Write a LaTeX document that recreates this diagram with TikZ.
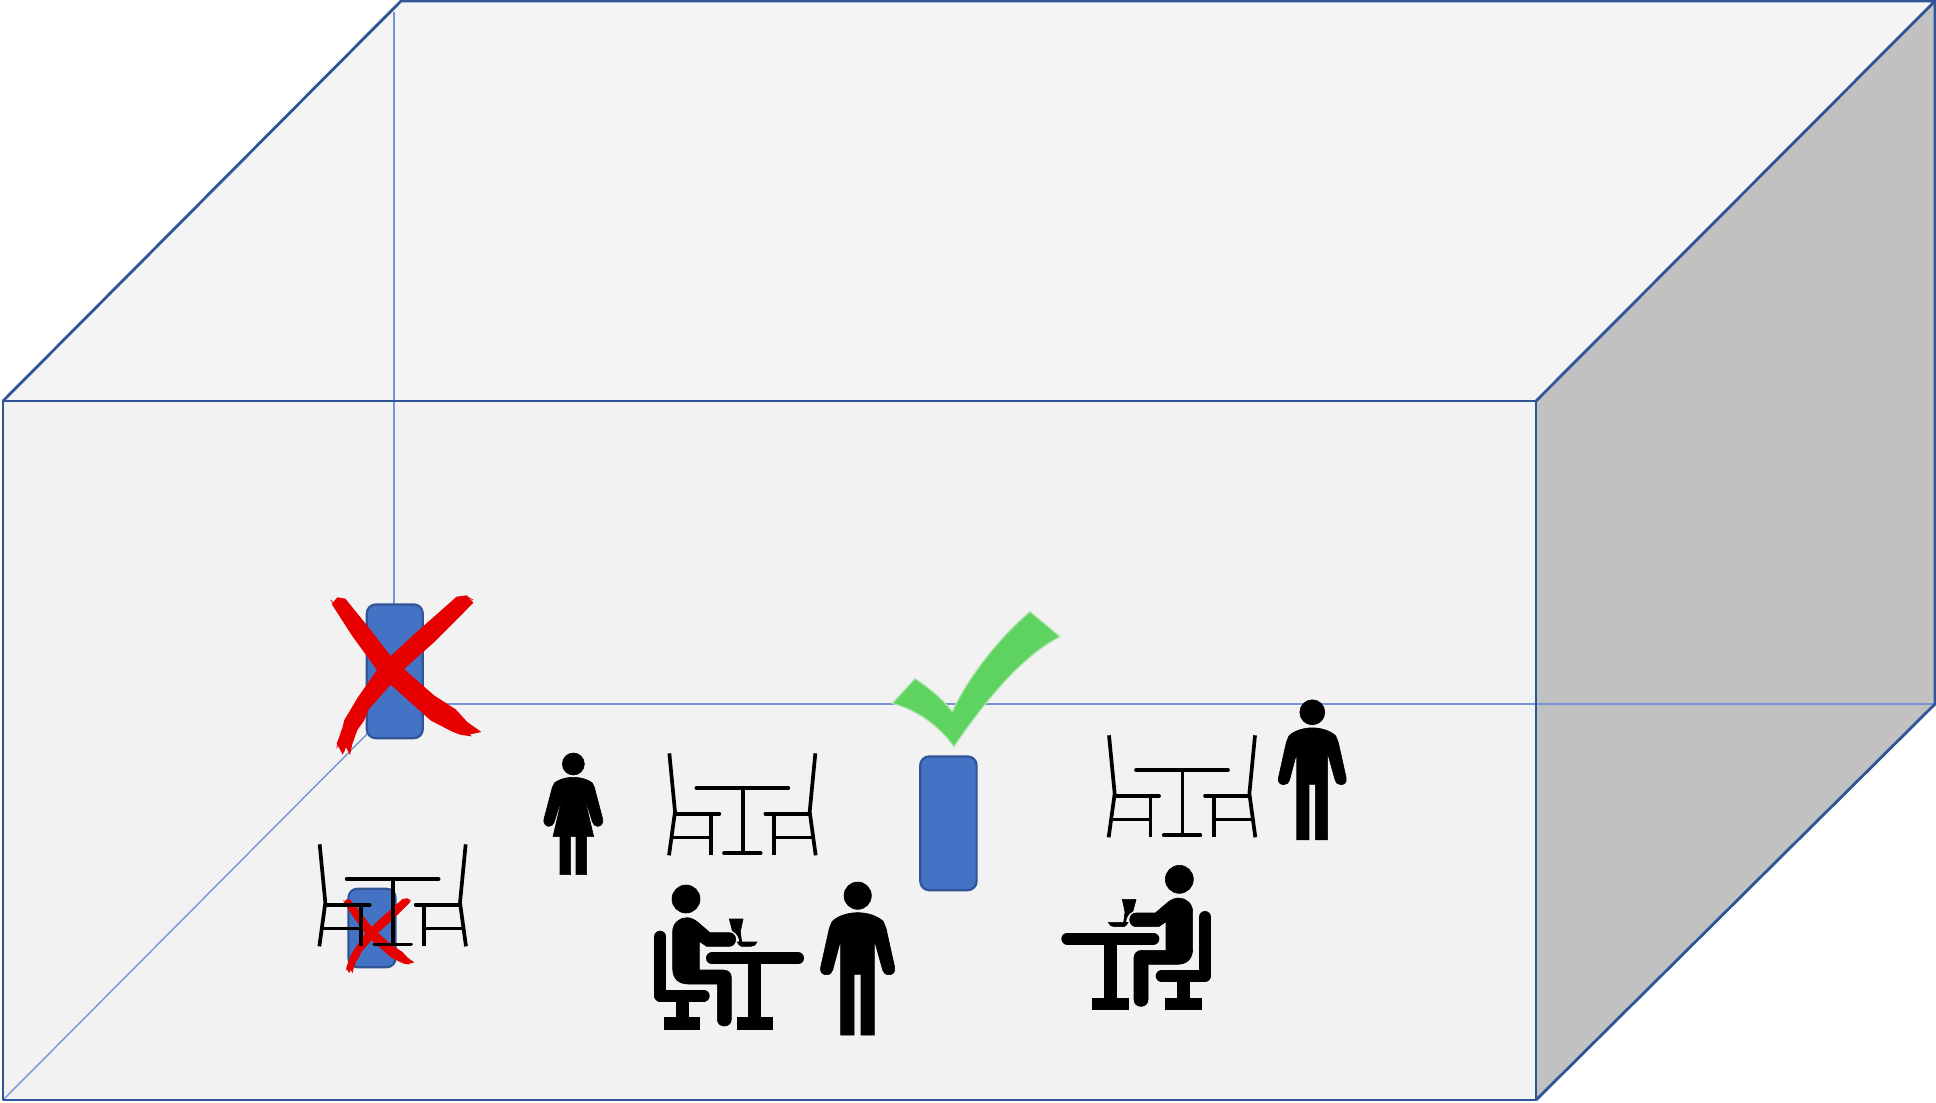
\documentclass[tikz,border=0pt]{standalone}
\usetikzlibrary{calc}
\definecolor{frontc}{HTML}{F2F2F2}
\definecolor{topc}{HTML}{F4F4F4}
\definecolor{sidec}{HTML}{C1C1C1}
\definecolor{edgec}{HTML}{2F5597}
\definecolor{innerc}{HTML}{7496D6}
\definecolor{bluec}{HTML}{4472C4}
\definecolor{redc}{HTML}{E60000}
\definecolor{greenc}{HTML}{5FD35F}
\tikzset{
  boxedge/.style={draw=edgec,line width=1.4pt,line join=round},
  innerline/.style={draw=innerc,line width=0.9pt},
  device/.style={draw=edgec,fill=bluec,line width=1.1pt,rounded corners=4.5pt,inner sep=0pt,outer sep=0pt},
  zoomunits/.style={x=0.166667pt,y=-0.166667pt},
  thinblack/.style={draw=black,line width=1.85pt,line cap=round,line join=round},
  thickblack/.style={draw=black,line width=6pt,line cap=round,line join=round},
  fray/.style={draw=redc,line width=0.5pt,opacity=.75},
}
\newcommand{\figTable}{%
  \draw[thinblack,line cap=butt] (118,40) -- (135,215) -- (117,346);
  \draw[thinblack,line cap=butt] (556,40) -- (539,215) -- (557,346);
  \draw[thinblack] (135,221) -- (268,221);
  \draw[thinblack] (539,221) -- (406,221);
  \draw[thinblack,line cap=butt] (242,221) -- (242,346);
  \draw[thinblack,line cap=butt] (432,221) -- (432,346);
  \draw[thinblack,line cap=butt,line width=1.5pt] (128,292) -- (242,292);
  \draw[thinblack,line cap=butt,line width=1.5pt] (546,292) -- (432,292);
  \draw[thinblack] (199,144) -- (475,144);
  \draw[thinblack,line cap=butt] (338,144) -- (338,340);
  \draw[thinblack] (282,340) -- (392,340);
}
\newcommand{\figMan}{%
  \filldraw (683,467) circle[radius=41];
  \filldraw (683,518) .. controls (650,518) and (620,530) .. (606,545)
    -- (598,565) -- (572,682)
    .. controls (569,698) and (580,705) .. (590,704)
    .. controls (600,704) and (606,698) .. (608,690)
    -- (632,600) -- (632,885) -- (672,885) -- (672,703) -- (693,703)
    -- (693,885) -- (733,885) -- (733,600) -- (758,690)
    .. controls (760,698) and (766,704) .. (776,704)
    .. controls (786,705) and (797,698) .. (794,682)
    -- (768,565) -- (760,545)
    .. controls (746,530) and (716,518) .. (683,518) -- cycle;
}
\newcommand{\figWoman}{%
  \filldraw (820,582) circle[radius=33];
  \filldraw (820,622) .. controls (795,622) and (775,630) .. (764,638)
    -- (757,652) -- (732,747)
    .. controls (729,760) and (738,769) .. (747,769)
    .. controls (755,769) and (761,763) .. (763,755)
    -- (790,668) -- (759,800) -- (780,800) -- (780,914) -- (812,914)
    -- (812,800) -- (828,800) -- (828,914) -- (860,914) -- (860,800) -- (881,800)
    -- (850,668) -- (877,755)
    .. controls (879,763) and (885,769) .. (893,769)
    .. controls (902,769) and (911,760) .. (908,747)
    -- (883,652) -- (876,638)
    .. controls (865,630) and (845,622) .. (820,622) -- cycle;
}
\newcommand{\figSit}{%
  \filldraw (168,477) circle[radius=42];
  \draw[thickblack] (91,590) -- (91,767) -- (221,767);
  \filldraw (138,767) rectangle (174,835);
  \filldraw (103,833) rectangle (209,867);
  \draw[thickblack] (246,655) -- (504,655);
  \filldraw (356,655) rectangle (392,835);
  \filldraw (322,833) rectangle (428,867);
  \filldraw (170,533) .. controls (185,533) and (195,540) .. (205,548)
    -- (240,578) -- (298,578)
    .. controls (310,578) and (317,588) .. (317,598)
    .. controls (317,610) and (308,619) .. (298,619)
    -- (230,619) -- (208,604) -- (208,690) -- (280,690)
    .. controls (295,690) and (304,700) .. (304,712)
    -- (304,838)
    .. controls (304,850) and (295,858) .. (283,858)
    .. controls (271,858) and (262,850) .. (262,838)
    -- (262,732) -- (175,732)
    .. controls (145,732) and (128,715) .. (128,685)
    -- (128,575)
    .. controls (128,550) and (148,533) .. (170,533) -- cycle;
  \filldraw (298,537) -- (339,537) -- (331,575) -- (335,606) -- (329,606)
    .. controls (328,592) and (322,580) .. (307,572) -- cycle;
  \filldraw (322,606) -- (381,606) .. controls (378,614) and (372,619) .. (362,619)
    -- (334,619) .. controls (328,616) and (324,612) .. (322,606) -- cycle;
}
\newcommand{\figCross}{%
  \fill[redc] (95,102) -- (112,82) -- (136,86) -- (204,170) -- (272,258) -- (350,186) -- (470,80)
    -- (500,76) -- (520,98) -- (482,137) -- (402,217) -- (312,297) -- (402,376) -- (467,418)
    -- (502,456) -- (544,486) -- (510,493) -- (515,499) -- (480,494) -- (455,484) -- (393,452)
    -- (272,344) -- (207,417) -- (192,452) -- (172,480) -- (157,522) -- (150,555) -- (138,532)
    -- (128,554) -- (110,520) -- (123,490) -- (133,450) -- (173,383) -- (231,300) -- (156,197) -- cycle;
  \draw[fray] (125,480) -- (110,535) (140,470) -- (132,545) (160,470) -- (148,540)
    (180,440) -- (160,495) (420,415) -- (490,490) (450,420) -- (535,486) (470,440) -- (525,490)
    (100,98) -- (92,90) (500,80) -- (520,90);
}
\begin{document}
\begin{tikzpicture}[x=0.5pt,y=-0.5pt]
\useasboundingbox (0,0) rectangle (1936,1102);
% box faces
\fill[white] (0,0) rectangle (1936,1102);
\path[fill=topc] (3,401) -- (401,1) -- (1935,1) -- (1536,401) -- cycle;
\path[fill=frontc] (3,401) rectangle (1536,1100);
\path[fill=sidec] (1536,401) -- (1935,1) -- (1935,704) -- (1536,1100) -- cycle;
% hidden edges
\coordinate (backtop) at (394,12);
\coordinate (backcorner) at (394,704);
\coordinate (frontcorner) at (3,1100);
\coordinate (rightback) at (1935,704);
\draw[innerline] (backtop) -- (backcorner);
\draw[innerline] (backcorner) -- (rightback);
\draw[innerline,line width=0.7pt] (frontcorner) -- (394,707);
% visible edges
\draw[boxedge] (3,401) rectangle (1536,1100);
\draw[boxedge] (3,401) -- (401,1) -- (1935,1) -- (1536,401);
\draw[boxedge] (1935,1) -- (1935,704) -- (1536,1100);
% devices
\node[device,minimum width=28pt,minimum height=66.9pt] (devA) at (394.8,671.3) {};
\node[device,minimum width=28.2pt,minimum height=66.9pt] (devB) at (948.4,823.3) {};
\node[device,minimum width=23.6pt,minimum height=39.2pt] (devC) at (372,928) {};
% crosses
\begin{scope}[shift={(300,570)},zoomunits] \figCross \end{scope}
\begin{scope}[shift={(371.67,933.33)},zoomunits,scale=.47,shift={(-272,-300)}] \figCross \end{scope}
% tick
\path[fill=greenc,draw=greenc!45!frontc,line width=0.6pt,shift={(880,600)},zoomunits]
  (37,310) -- (105,236)
  .. controls (150,265) and (190,300) .. (217,335)
  .. controls (260,240) and (350,120) .. (450,35)
  -- (540,110)
  .. controls (440,160) and (330,280) .. (222,440)
  .. controls (175,375) and (110,330) .. (37,310) -- cycle;
% tables
\begin{scope}[shift={(630,740)},zoomunits] \figTable \end{scope}
\begin{scope}[shift={(1069.67,722)},zoomunits] \figTable \end{scope}
\begin{scope}[shift={(280.33,831)},zoomunits] \figTable \end{scope}
% people
\begin{scope}[shift={(300,570)},zoomunits,line width=0.3pt] \figWoman \end{scope}
\begin{scope}[shift={(630,740)},zoomunits,line width=0.3pt] \figMan \end{scope}
\begin{scope}[shift={(1312.3,712.3)},zoomunits,line width=0.3pt,scale=.915,shift={(-683,-467)}] \figMan \end{scope}
\begin{scope}[shift={(630,740)},zoomunits,line width=0.3pt] \figSit \end{scope}
\begin{scope}[shift={(1235.33,720.33)},zoomunits,line width=0.3pt,xscale=-1] \figSit \end{scope}
\end{tikzpicture}
\end{document}
